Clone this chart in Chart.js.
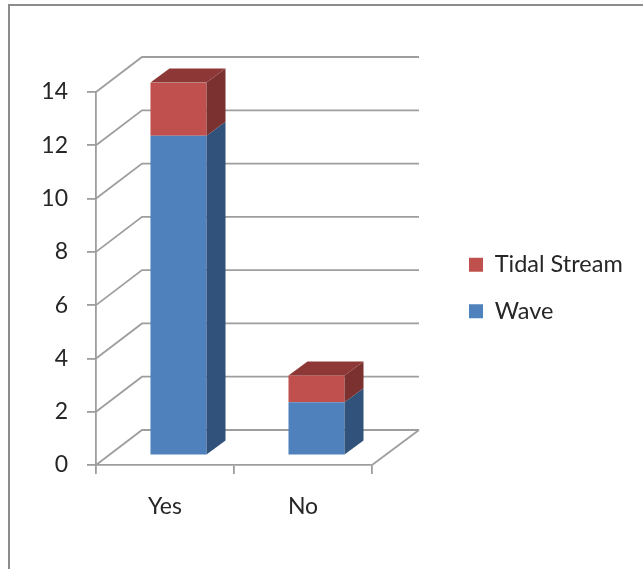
<!DOCTYPE html>
<html>
<head>
<meta charset="utf-8">
<style>
html,body{margin:0;padding:0;background:#fff;overflow:hidden}
#wrap{position:relative;width:643px;height:569px}
#frame{position:absolute;left:8px;top:4px;right:-10px;bottom:-10px;border:2px solid #8c8c8c}
canvas{position:absolute;left:0;top:0;filter:blur(0.45px)}
</style>
<script src="https://cdn.jsdelivr.net/npm/chart.js@4"></script>
</head>
<body>
<div id="wrap"><div id="frame"></div><canvas id="c" width="643" height="569"></canvas></div>
<script>
const categories = ["Yes", "No"];
const waveValues = [12, 2];
const tidalValues = [2, 1];
const yTickStep = 2;
const yMax = 14;

const GRID = "#9e9e9e", TEXT = "#262626", FONT = "Lato, Carlito, sans-serif";
const WALL = {dx: 46, dy: -35};     // back wall offset
const PLANE = {dx: 13.5, dy: -9.5};  // bar front plane offset
const DEPTH = {dx: 19, dy: -14};    // bar depth
const SIDE = ["#31527b", "#7a312f"];
const TOP = ["#3a6190", "#8d3836"];

function poly(ctx, pts, fill) {
  ctx.beginPath();
  pts.forEach((p, i) => i ? ctx.lineTo(p[0], p[1]) : ctx.moveTo(p[0], p[1]));
  ctx.closePath();
  ctx.fillStyle = fill;
  ctx.fill();
}

const threeD = {
  id: "threeD",
  afterLayout(chart) {
    const l = chart.legend;
    l.left = 446; l.right = 643; l.top = 230; l.bottom = 420;
  },
  beforeDatasetsDraw(chart) {
    const {ctx, scales: {x, y}, chartArea: a} = chart;
    ctx.save();
    ctx.strokeStyle = GRID;
    ctx.lineWidth = 1.8;
    y.ticks.forEach(t => {
      const py = y.getPixelForValue(t.value);
      ctx.beginPath();
      ctx.moveTo(a.left, py);
      ctx.lineTo(a.left + WALL.dx, py + WALL.dy);
      ctx.lineTo(a.right + WALL.dx + 1, py + WALL.dy);
      ctx.stroke();
    });
    const base = y.getPixelForValue(0);
    ctx.beginPath();
    ctx.moveTo(a.right, base);
    ctx.lineTo(a.right + WALL.dx + 1, base + WALL.dy);
    ctx.stroke();
    ctx.restore();
    ctx.save();
    ctx.translate(PLANE.dx, PLANE.dy);
  },
  afterDatasetsDraw(chart) {
    const {ctx} = chart;
    chart.data.datasets.forEach((ds, di) => {
      chart.getDatasetMeta(di).data.forEach(b => {
        const r = b.x + b.width / 2, l = b.x - b.width / 2;
        const t = Math.min(b.y, b.base), bt = Math.max(b.y, b.base);
        poly(ctx, [[r, t], [r + DEPTH.dx, t + DEPTH.dy], [r + DEPTH.dx, bt + DEPTH.dy], [r, bt]], SIDE[di]);
        if (di === chart.data.datasets.length - 1) {
          poly(ctx, [[l, t], [l + DEPTH.dx, t + DEPTH.dy], [r + DEPTH.dx, t + DEPTH.dy], [r, t]], TOP[di]);
        }
      });
    });
    ctx.restore();
  }
};

new Chart(document.getElementById("c"), {
  type: "bar",
  data: {
    labels: categories,
    datasets: [
      {label: "Wave", data: waveValues, backgroundColor: "#4f81bd", borderWidth: 0, barPercentage: 0.406, categoryPercentage: 1},
      {label: "Tidal Stream", data: tidalValues, backgroundColor: "#c0504d", borderWidth: 0, barPercentage: 0.406, categoryPercentage: 1}
    ]
  },
  options: {
    responsive: false,
    animation: false,
    layout: {padding: {left: 0, right: 271, top: 92, bottom: 0}},
    plugins: {
      title: {display: false},
      tooltip: {enabled: false},
      legend: {
        display: true,
        position: "chartArea",
        align: "start",
        reverse: true,
        labels: {
          boxWidth: 14, boxHeight: 14, padding: 23,
          color: TEXT,
          font: {family: FONT, size: 23.5}
        }
      }
    },
    scales: {
      x: {
        stacked: true,
        afterFit(s) { s.height = 104; },
        grid: {display: true, offset: true, drawOnChartArea: false, drawTicks: true, tickLength: 9, color: GRID, lineWidth: 1.8},
        border: {display: true, color: GRID, width: 1.8},
        ticks: {color: TEXT, padding: 19, maxRotation: 0, font: {family: FONT, size: 23}}
      },
      y: {
        stacked: true,
        min: 0,
        max: yMax,
        afterFit(s) { s.width = 96; },
        grid: {display: true, drawOnChartArea: false, drawTicks: true, tickLength: 9, color: GRID, lineWidth: 1.8},
        border: {display: true, color: GRID, width: 1.8},
        ticks: {stepSize: yTickStep, color: TEXT, padding: 19, font: {family: FONT, size: 23}}
      }
    }
  },
  plugins: [threeD]
});
</script>
</body>
</html>
